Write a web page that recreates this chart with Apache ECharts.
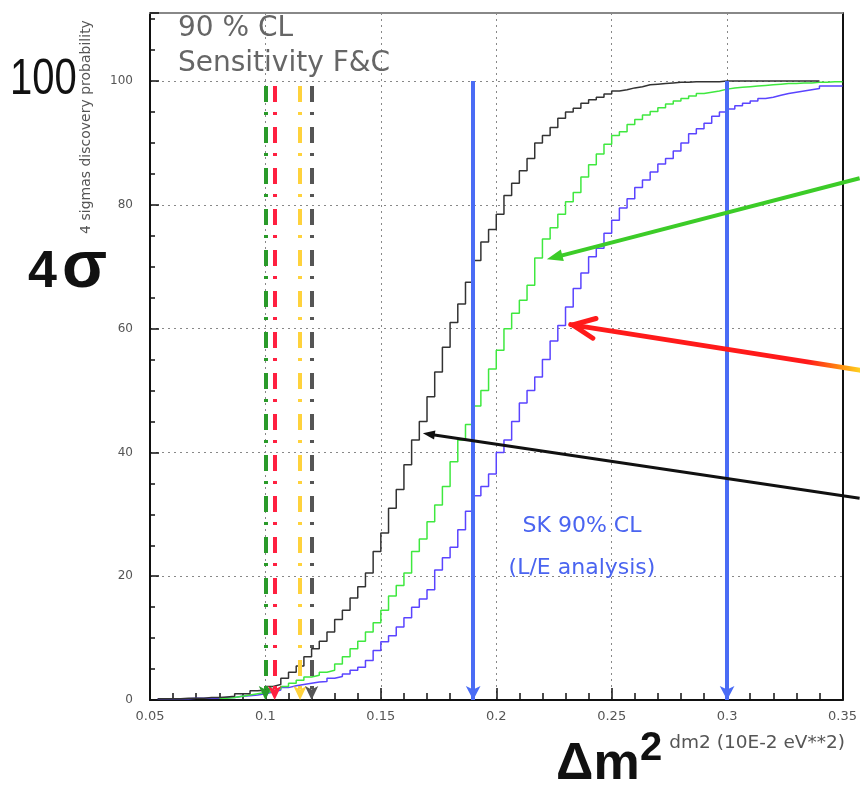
<!DOCTYPE html>
<html>
<head>
<meta charset="utf-8">
<title>4 sigma discovery probability</title>
<script src="https://cdn.jsdelivr.net/npm/echarts@6/dist/echarts.min.js"></script>
<style>
  html, body { margin: 0; padding: 0; background: #fff; }
  #chart { width: 860px; height: 786px; }
</style>
</head>
<body>
<div id="chart"></div>
<script>
// histogram binning of dm2 (10E-2 eV**2)
const binStart = 0.05
const binWidth = 1 / 300

// cumulative 4 sigma discovery probability (%) per bin
const blackProb = [
  null, 0.2, 0.2, 0.2, 0.3, 0.3, 0.3, 0.4, 0.4, 0.5,
  0.6, 1.0, 1.0, 1.5, 1.6, 2.2, 2.5, 3.5, 4.5, 5.5,
  7, 8.3, 9.5, 11, 13, 14.5, 16.5, 18.3, 20.5, 24,
  27, 31, 34, 38, 42, 45, 49, 53, 57, 61,
  64, 67.5, 71, 74, 76, 78.5, 81.5, 83.5, 85.5, 87.5,
  90, 91.2, 92.5, 94, 95, 95.6, 96.4, 97, 97.4, 97.9,
  98.4, 98.6, 98.9, 99.1, 99.4, 99.5, 99.6, 99.7, 99.8, 99.8,
  99.9, 99.9, 99.9, 99.9, 100, 100, 100, 100, 100, 100,
  100, 100, 100, 100, 100, 100, 100
]
const greenProb = [
  null, null, null, null, null, null, null, null, null, 0.3,
  0.4, 0.6, 0.8, 1.0, 1.2, 1.4, 1.8, 2.2, 2.7, 3.2,
  3.7, 4.0, 4.5, 4.8, 5.8, 7, 8.3, 9.5, 11, 12.5,
  14.5, 16.8, 18.5, 20.5, 24, 26, 28.8, 31.5, 34.5, 38.5,
  42, 44.5, 47.5, 50, 53.5, 56.5, 60, 62.5, 64.6, 67,
  71.4, 74.5, 76.3, 78.5, 80.5, 82, 84.5, 86.5, 88.2, 89.8,
  91.2, 91.8, 93, 93.8, 94.5, 95.1, 95.7, 96.3, 96.8, 97.2,
  97.6, 98, 98.2, 98.4, 98.7, 98.9, 99, 99.1, 99.2, 99.3,
  99.4, 99.5, 99.6, 99.6, 99.7, 99.7, 99.8, 99.8, 99.9, 99.9
]
const blueProb = [
  null, 0.2, 0.2, 0.2, 0.2, 0.3, 0.3, 0.3, 0.3, 0.4,
  0.4, 0.6, 0.7, 0.8, 1.0, 1.3, 1.6, 2.0, 2.3, 2.5,
  2.7, 2.9, 3.0, 3.5, 3.8, 4.2, 4.8, 5.3, 6.4, 8,
  9.4, 10.4, 11.8, 13.3, 15, 16.3, 17.8, 21, 23, 24.7,
  27.5, 30.5, 33, 34.5, 36.5, 40, 42, 45, 48, 50,
  52.2, 55, 58, 60.5, 63.5, 66.5, 69, 71.6, 73, 75.4,
  77.5, 79.5, 81, 82.8, 84, 85.3, 86.6, 87.5, 88.7, 90,
  91.5, 92.3, 93.2, 94.3, 95, 95.5, 96, 96.4, 96.8, 97.2,
  97.4, 97.7, 98, 98.2, 98.4, 98.6, 98.8, 99.2, 99.2, 99.2
]

// SK 90% CL limits (blue arrows)
const skLimits = [0.19, 0.3]
// 90% CL sensitivities (dash-dot arrows)
const sensDm2 = [0.1, 0.104, 0.115, 0.12]
const sensTop = 99.2

// pointer arrows: [from, to] in data units
const arrowNotes = [
  { from: [0.3574, 84.3], to: [0.2219, 71.2], color: '#3ccc28', width: 4, head: 'fill' },
  { from: [0.3574, 53.3], to: [0.2331, 60.6], color: '#ff1a1a', width: 5, head: 'open' },
  { from: [0.3574, 32.6], to: [0.1682, 43.1], color: '#111111', width: 3, head: 'fill' }
]

function toSteps(vals) {
  const pts = []
  let last = -1
  vals.forEach((v, i) => {
    if (v == null) return
    pts.push([binStart + i * binWidth, v])
    last = i
  })
  pts.push([binStart + (last + 1) * binWidth, vals[last]])
  return pts
}

const chart = echarts.init(document.getElementById('chart'))

const sensColors = ['#2a9a2a', '#ff2040', '#ffd23c', '#555555']
const dashDot = [16, 10, 3, 12]

const verticalLines = []
skLimits.forEach(x => {
  verticalLines.push([
    { coord: [x, 100], symbol: 'none' },
    { coord: [x, 0], symbol: 'arrow', symbolSize: [11, 14],
      lineStyle: { color: '#4a6cf5', width: 4, type: 'solid' } }
  ])
})
sensDm2.forEach((x, i) => {
  verticalLines.push([
    { coord: [x, sensTop], symbol: 'none' },
    { coord: [x, 0], symbol: 'arrow', symbolSize: [10, 14],
      lineStyle: { color: sensColors[i], width: 4, type: dashDot } }
  ])
})

let option = {
  animation: false,
  backgroundColor: '#fff',
  grid: {
    left: 150,
    right: 17,
    top: 13,
    bottom: 86,
    containLabel: false
  },
  xAxis: [{
    type: 'value',
    min: 0.05,
    max: 0.35,
    interval: 0.05,
    position: 'bottom',
    axisLine: { show: true, onZero: false, lineStyle: { color: '#111', width: 2 } },
    axisTick: { show: true, inside: true, length: 12, lineStyle: { color: '#111', width: 1.5 } },
    minorTick: { show: true, splitNumber: 5, length: 7, lineStyle: { color: '#111', width: 1.5 } },
    splitLine: { show: true, lineStyle: { color: '#888', width: 1, type: [2, 4] } },
    minorSplitLine: { show: false },
    axisLabel: {
      color: '#555',
      fontSize: 13,
      fontFamily: 'DejaVu Sans',
      margin: 10,
      formatter: v => String(+v.toFixed(2))
    }
  }, {
    type: 'value',
    min: 0.05,
    max: 0.35,
    position: 'top',
    axisLine: { show: true, onZero: false, lineStyle: { color: '#888', width: 2 } },
    axisTick: { show: false },
    axisLabel: { show: false },
    splitLine: { show: false }
  }],
  yAxis: [{
    type: 'value',
    min: 0,
    max: 111,
    interval: 20,
    position: 'left',
    axisLine: { show: true, onZero: false, lineStyle: { color: '#111', width: 2 } },
    axisTick: { show: true, inside: true, length: 9, lineStyle: { color: '#111', width: 1.5 } },
    minorTick: { show: true, splitNumber: 4, length: 5, lineStyle: { color: '#111', width: 1.5 } },
    splitLine: { show: true, lineStyle: { color: '#888', width: 1, type: [2, 4] } },
    axisLabel: {
      color: '#555',
      fontSize: 12,
      fontFamily: 'DejaVu Sans',
      margin: 17,
      showMaxLabel: false
    }
  }, {
    type: 'value',
    min: 0,
    max: 111,
    position: 'right',
    axisLine: { show: true, onZero: false, lineStyle: { color: '#111', width: 2 } },
    axisTick: { show: false },
    axisLabel: { show: false },
    splitLine: { show: false }
  }],
  series: [
    {
      name: 'blue',
      type: 'line',
      step: 'end',
      showSymbol: false,
      silent: true,
      data: toSteps(blueProb),
      lineStyle: { color: '#5a44ff', width: 1.5 },
      z: 3
    },
    {
      name: 'green',
      type: 'line',
      step: 'end',
      showSymbol: false,
      silent: true,
      data: toSteps(greenProb),
      lineStyle: { color: '#3fe83f', width: 1.5 },
      z: 3
    },
    {
      name: 'black',
      type: 'line',
      step: 'end',
      showSymbol: false,
      silent: true,
      data: toSteps(blackProb),
      lineStyle: { color: '#333', width: 1.5 },
      z: 4,
      markLine: {
        silent: true,
        animation: false,
        label: { show: false },
        emphasis: { disabled: true },
        data: verticalLines
      }
    }
  ],
  graphic: [
    { type: 'text', x: 10, y: 55, scaleX: 0.8, z: 50,
      style: { text: '100', font: '50px "Liberation Sans"', fill: '#111' } },
    { type: 'text', x: 86, y: 127, rotation: Math.PI / 2, z: 50,
      style: { text: '4 sigmas discovery probability', font: '14px "DejaVu Sans"', fill: '#555',
        textAlign: 'center', textVerticalAlign: 'middle' } },
    { type: 'text', x: 28, y: 247, z: 50,
      style: { text: '4', font: 'bold 52px "Liberation Sans"', fill: '#111' } },
    { type: 'text', x: 62, y: 236, z: 50,
      style: { text: 'σ', font: 'bold 66px "Liberation Sans"', fill: '#111' } },
    { type: 'text', x: 178, y: 15, z: 50,
      style: { text: '90 % CL', font: '28px "DejaVu Sans"', fill: '#666' } },
    { type: 'text', x: 178, y: 50, z: 50,
      style: { text: 'Sensitivity F&C', font: '28px "DejaVu Sans"', fill: '#666' } },
    { type: 'text', x: 582, y: 515, z: 50,
      style: { text: 'SK 90% CL', font: '22px "DejaVu Sans"', fill: '#4a64f0', textAlign: 'center' } },
    { type: 'text', x: 582, y: 557, z: 50,
      style: { text: '(L/E analysis)', font: '22px "DejaVu Sans"', fill: '#4a64f0', textAlign: 'center' } },
    { type: 'text', x: 556, y: 739, z: 50,
      style: { text: 'Δm', font: 'bold 52px "Liberation Sans"', fill: '#111' } },
    { type: 'text', x: 640, y: 729, z: 50,
      style: { text: '2', font: 'bold 40px "Liberation Sans"', fill: '#111' } },
    { type: 'text', x: 845, y: 734, z: 50,
      style: { text: 'dm2 (10E-2 eV**2)', font: '18.5px "DejaVu Sans"', fill: '#555', textAlign: 'right' } }
  ]
}

chart.setOption(option)

// pointer arrows placed through the axes' own scales
function arrowShapes(note, idx) {
  const p0 = chart.convertToPixel({ xAxisIndex: 0, yAxisIndex: 0 }, note.from)
  const p1 = chart.convertToPixel({ xAxisIndex: 0, yAxisIndex: 0 }, note.to)
  const dx = p1[0] - p0[0], dy = p1[1] - p0[1]
  const len = Math.sqrt(dx * dx + dy * dy)
  const ux = dx / len, uy = dy / len
  const px = -uy, py = ux
  const out = []
  let stroke = note.color
  if (note.head === 'open') {
    stroke = new echarts.graphic.LinearGradient(p1[0], p1[1], p0[0], p0[1], [
      { offset: 0, color: '#ff1a1a' },
      { offset: 0.82, color: '#ff1a1a' },
      { offset: 0.93, color: '#ff8a10' },
      { offset: 1, color: '#ffd020' }
    ], true)
    const hl = 22, hw = 20
    const bx = p1[0] - ux * hl, by = p1[1] - uy * hl
    out.push({ type: 'line', z: 60, id: 'arrow' + idx,
      shape: { x1: p0[0], y1: p0[1], x2: p1[0] + ux * 2, y2: p1[1] + uy * 2 },
      style: { stroke: stroke, lineWidth: note.width, lineCap: 'round' } })
    out.push({ type: 'polyline', z: 60, id: 'head' + idx,
      shape: { points: [[bx + px * hw / 2, by + py * hw / 2], [p1[0], p1[1]], [bx - px * hw / 2, by - py * hw / 2]] },
      style: { stroke: '#ff1a1a', lineWidth: 5, fill: null, lineJoin: 'round', lineCap: 'round' } })
  } else {
    const hl = note.width > 3 ? 16 : 12, hw = note.width > 3 ? 12 : 9
    const bx = p1[0] - ux * hl, by = p1[1] - uy * hl
    out.push({ type: 'line', z: 60, id: 'arrow' + idx,
      shape: { x1: p0[0], y1: p0[1], x2: bx + ux * 2, y2: by + uy * 2 },
      style: { stroke: stroke, lineWidth: note.width } })
    out.push({ type: 'polygon', z: 60, id: 'head' + idx,
      shape: { points: [[p1[0], p1[1]], [bx + px * hw / 2, by + py * hw / 2], [bx - px * hw / 2, by - py * hw / 2]] },
      style: { fill: note.color } })
  }
  return out
}

let arrowGraphics = []
arrowNotes.forEach((n, i) => { arrowGraphics = arrowGraphics.concat(arrowShapes(n, i)) })
chart.setOption({ graphic: option.graphic.concat(arrowGraphics) })
</script>
</body>
</html>
